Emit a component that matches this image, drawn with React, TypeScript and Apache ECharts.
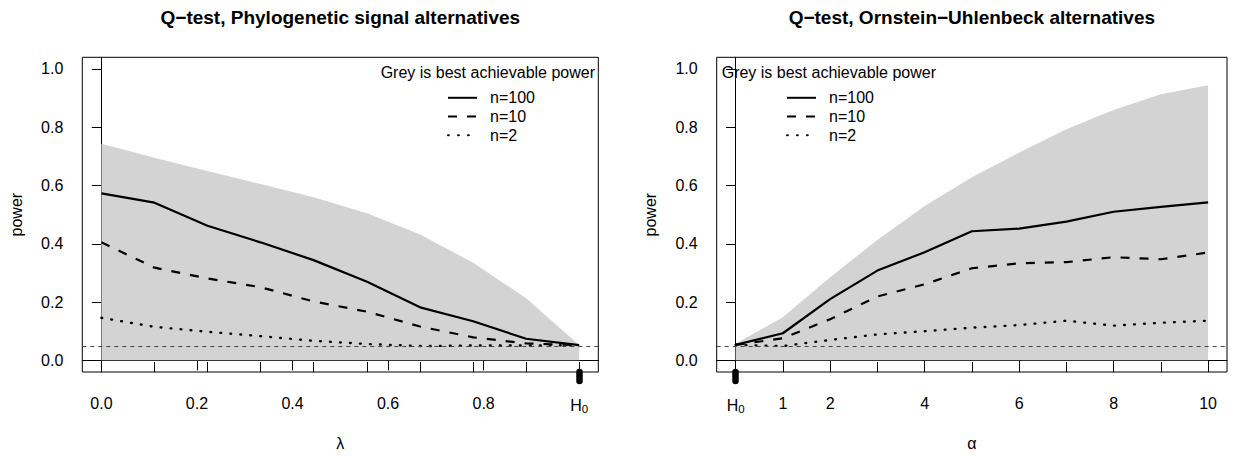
import React, { useEffect, useRef } from "react";
import * as echarts from "echarts";

// ---------------- data ----------------
const lambdaX = [0, 0.111, 0.222, 0.333, 0.444, 0.556, 0.667, 0.778, 0.889, 1.0];
const lambdaBest = [0.743, 0.695, 0.65, 0.605, 0.56, 0.505, 0.432, 0.335, 0.213, 0.053];
const lambdaN100 = [0.573, 0.541, 0.462, 0.405, 0.344, 0.27, 0.182, 0.134, 0.074, 0.052];
const lambdaN10 = [0.405, 0.318, 0.281, 0.251, 0.202, 0.167, 0.116, 0.079, 0.058, 0.052];
const lambdaN2 = [0.146, 0.115, 0.098, 0.083, 0.067, 0.056, 0.049, 0.051, 0.051, 0.052];

const alphaX = [0, 1, 2, 3, 4, 5, 6, 7, 8, 9, 10];
const alphaBest = [0.057, 0.148, 0.285, 0.413, 0.53, 0.628, 0.713, 0.793, 0.859, 0.913, 0.944];
const alphaN100 = [0.053, 0.093, 0.21, 0.308, 0.371, 0.443, 0.452, 0.476, 0.51, 0.527, 0.542];
const alphaN10 = [0.053, 0.076, 0.141, 0.219, 0.261, 0.316, 0.333, 0.337, 0.354, 0.347, 0.37];
const alphaN2 = [0.053, 0.049, 0.07, 0.089, 0.1, 0.112, 0.121, 0.136, 0.119, 0.129, 0.136];

const lambdaTickValues = [0, 0.2, 0.4, 0.6, 0.8];
const lambdaLabelValues = [0, 0.2, 0.4, 0.6, 0.8, 1];
const lambdaNull = 1;
const alphaTickValues = [1, 2, 4, 6, 8, 10];
const alphaLabelValues = [0, 1, 2, 4, 6, 8, 10];
const alphaNull = 0;
const powerTicks = [0, 0.2, 0.4, 0.6, 0.8, 1.0];
const nullLevel = 0.05;

const seriesNames = ["n=100", "n=10", "n=2"];
const titles = ["Q\u2212test, Phylogenetic signal alternatives", "Q\u2212test, Ornstein\u2212Uhlenbeck alternatives"];
const xNames = ["\u03bb", "\u03b1"];
const yName = "power";
const legendTitle = "Grey is best achievable power";
const nullLabel = "{h|H}{s|0}";

// ---------------- layout ----------------
const FONT = "'Liberation Sans', Arial, Helvetica, sans-serif";
const GRID_TOP = 57.3;
const GRID_H = 314.7;
const GRIDS = [
  { left: 82.3, width: 516 },
  { left: 716.7, width: 510.3 },
];

const zip = (xs: number[], ys: number[]) => xs.map((x, i) => [x, ys[i]]);

function panelSeries(xi: number, yi: number, xs: number[], best: number[], n100: number[], n10: number[], n2: number[]) {
  const common = {
    type: "line",
    xAxisIndex: xi,
    yAxisIndex: yi,
    symbol: "none",
    showSymbol: false,
    silent: true,
    color: "#000",
  };
  return [
    {
      ...common,
      name: "best",
      data: zip(xs, best),
      color: "#D3D3D3",
      lineStyle: { width: 0, color: "#D3D3D3" },
      areaStyle: { color: "#D3D3D3", opacity: 1, origin: 0 },
      markLine: {
        silent: true,
        symbol: ["none", "none"],
        label: { show: false },
        lineStyle: { color: "#444", width: 1, type: [4, 4] },
        data: [{ yAxis: nullLevel }],
      },
    },
    { ...common, name: seriesNames[0], data: zip(xs, n100), lineStyle: { color: "#000", width: 2.2, type: "solid" } },
    { ...common, name: seriesNames[1], data: zip(xs, n10), lineStyle: { color: "#000", width: 2.2, type: [9, 10] } },
    { ...common, name: seriesNames[2], data: zip(xs, n2), lineStyle: { color: "#000", width: 2.4, type: [0.8, 9.2], cap: "round" } },
  ];
}

function xAxes(gi: number, min: number, max: number, ticks: number[], labels: number[], rug: number[], nullVal: number, fmt: (v: number) => string, name: string) {
  return [
    {
      gridIndex: gi, type: "value", min, max, position: "bottom",
      axisLine: { show: true, lineStyle: { color: "#000", width: 1 } },
      axisTick: { show: true, customValues: ticks, length: 10, inside: false, lineStyle: { color: "#000", width: 1 } },
      axisLabel: {
        customValues: labels, formatter: fmt, margin: 23, fontSize: 16, color: "#000", fontFamily: FONT,
        rich: {
          h: { fontSize: 16, color: "#000", fontFamily: FONT },
          s: { fontSize: 11.5, color: "#000", fontFamily: FONT, padding: [8, 0, 0, 0] },
        },
      },
      splitLine: { show: false },
      name, nameLocation: "middle", nameGap: 63,
      nameTextStyle: { fontSize: 16, color: "#000", fontFamily: FONT },
    },
    {
      gridIndex: gi, type: "value", min, max, position: "bottom",
      axisLine: { show: false },
      axisTick: { show: true, customValues: rug, length: 10, inside: true, lineStyle: { color: "#000", width: 1 } },
      axisLabel: { show: false },
      splitLine: { show: false },
    },
    {
      gridIndex: gi, type: "value", min, max, position: "bottom",
      axisLine: { show: false },
      axisTick: { show: true, customValues: [nullVal], length: 9, inside: false, lineStyle: { color: "#000", width: 6.5, cap: "round" } },
      axisLabel: { show: false },
      splitLine: { show: false },
    },
  ];
}

function yAxis(gi: number) {
  return {
    gridIndex: gi, type: "value", min: -0.04, max: 1.04,
    axisLine: { show: true, lineStyle: { color: "#000", width: 1 } },
    axisTick: { show: true, customValues: powerTicks, length: 9.6, lineStyle: { color: "#000", width: 1 } },
    axisLabel: { customValues: powerTicks, formatter: (v: number) => v.toFixed(1), margin: 19, fontSize: 16, color: "#000", fontFamily: FONT },
    splitLine: { show: false },
    name: yName, nameLocation: "middle", nameGap: 58,
    nameTextStyle: { fontSize: 16, color: "#000", fontFamily: FONT },
  };
}

function legend(left: number) {
  return {
    left, top: 89.8, orient: "vertical", padding: 0,
    itemWidth: 29, itemHeight: 14, itemGap: 2.7,
    selectedMode: false,
    data: seriesNames,
    itemStyle: { opacity: 0, borderWidth: 0 },
    textStyle: { fontSize: 16, color: "#000", fontFamily: FONT, lineHeight: 16, padding: [0, 0, 0, 8] },
  };
}

export default function App() {
  const ref = useRef<HTMLDivElement>(null);
  useEffect(() => {
    if (!ref.current) return;
    const chart = echarts.init(ref.current, undefined, { renderer: "svg" });
    const lambdaFmt = (v: number) => (v === lambdaNull ? nullLabel : v.toFixed(1));
    const alphaFmt = (v: number) => (v === alphaNull ? nullLabel : String(v));
    const centers = GRIDS.map((g) => g.left + g.width / 2);
    chart.setOption({
      animation: false,
      backgroundColor: "#fff",
      grid: GRIDS.map((g) => ({
        left: g.left, top: GRID_TOP, width: g.width, height: GRID_H,
        show: true, borderColor: "#000", borderWidth: 1, backgroundColor: "transparent",
      })),
      xAxis: [
        ...xAxes(0, -0.04, 1.04, lambdaTickValues, lambdaLabelValues, lambdaX, lambdaNull, lambdaFmt, xNames[0]),
        ...xAxes(1, -0.4, 10.4, alphaTickValues, alphaLabelValues, alphaX, alphaNull, alphaFmt, xNames[1]),
      ],
      yAxis: [yAxis(0), yAxis(1)],
      legend: [legend(447), legend(786)],
      series: [
        ...panelSeries(0, 0, lambdaX, lambdaBest, lambdaN100, lambdaN10, lambdaN2),
        ...panelSeries(3, 1, alphaX, alphaBest, alphaN100, alphaN10, alphaN2),
      ],
      graphic: [
        ...titles.map((t, i) => ({
          type: "text", x: centers[i], y: 17, silent: true,
          style: { text: t, fill: "#000", font: `bold 19px ${FONT}`, textAlign: "center", textVerticalAlign: "middle" },
        })),
        {
          type: "text", x: 595, y: 72.8, silent: true,
          style: { text: legendTitle, fill: "#000", font: `16px ${FONT}`, textAlign: "right", textVerticalAlign: "middle" },
        },
        {
          type: "text", x: 721.7, y: 72.8, silent: true,
          style: { text: legendTitle, fill: "#000", font: `16px ${FONT}`, textAlign: "left", textVerticalAlign: "middle" },
        },
      ],
    });
    return () => chart.dispose();
  }, []);
  return <div ref={ref} style={{ position: "absolute", left: 0, top: 0, width: 1236, height: 456 }} />;
}
